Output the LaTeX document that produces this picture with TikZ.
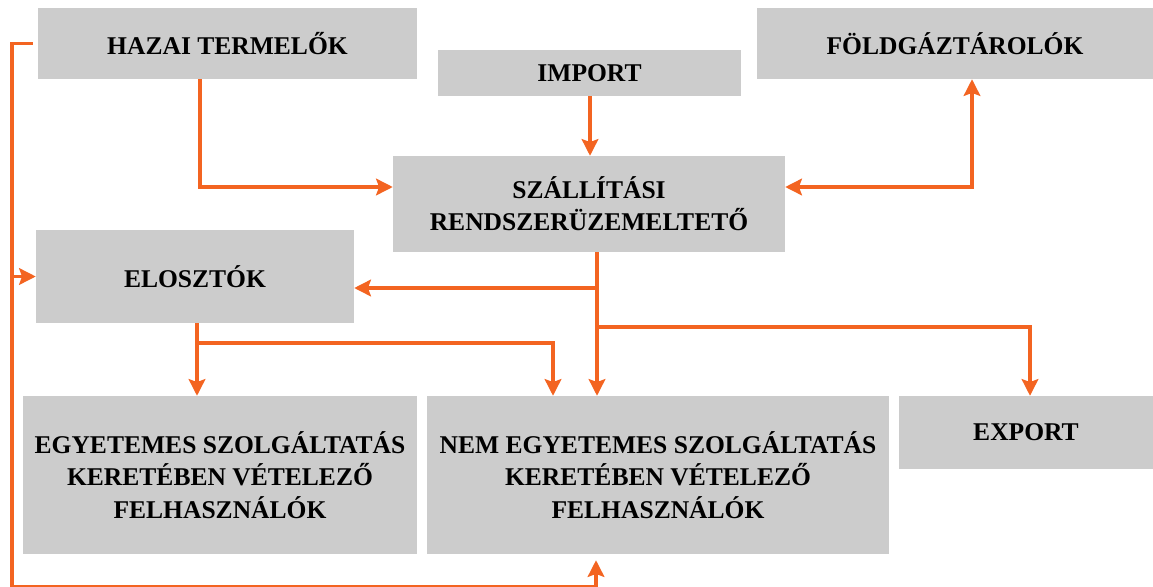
\documentclass[tikz,border=0pt]{standalone}
\usepackage{fontspec}
\setmainfont{Liberation Serif}
\usetikzlibrary{arrows.meta}
\definecolor{boxgray}{RGB}{204,204,204}
\definecolor{arrorange}{RGB}{243,100,33}
\tikzset{
  box/.style={fill=boxgray, inner sep=0pt, align=center,
    font=\fontsize{21.8pt}{27.5pt}\selectfont\bfseries, text=black},
  conn/.style={draw=arrorange, line width=0.096cm, line join=miter},
  arr/.style={conn, -{Stealth[length=0.5cm,width=0.5cm,inset=0.09cm]}},
  darr/.style={conn, {Stealth[length=0.5cm,width=0.5cm,inset=0.09cm]}-{Stealth[length=0.5cm,width=0.5cm,inset=0.09cm]}},
}
\begin{document}
\begin{tikzpicture}[x=0.03cm,y=-0.03cm]
\useasboundingbox (0,0) rectangle (1153,586);
\node[box, minimum width=379*0.03cm, minimum height=71*0.03cm] (hz) at (227.5,43.5) {HAZAI TERMELŐK};
\node[box, minimum width=303*0.03cm, minimum height=46*0.03cm] (imp) at (589.5,73) {IMPORT};
\node[box, minimum width=396*0.03cm, minimum height=71*0.03cm] (fold) at (955,43.5) {FÖLDGÁZTÁROLÓK};
\node[box, minimum width=392*0.03cm, minimum height=96*0.03cm] (szr) at (589,204) {SZÁLLÍTÁSI\\RENDSZERÜZEMELTETŐ};
\node[box, minimum width=318*0.03cm, minimum height=93*0.03cm] (elo) at (195,276.5) {ELOSZTÓK};
\node[box, minimum width=394*0.03cm, minimum height=158*0.03cm] (egy) at (220,475) {EGYETEMES SZOLGÁLTATÁS\\KERETÉBEN VÉTELEZŐ\\FELHASZNÁLÓK};
\node[box, minimum width=462*0.03cm, minimum height=158*0.03cm] (nem) at (658,475) {NEM EGYETEMES SZOLGÁLTATÁS\\KERETÉBEN VÉTELEZŐ\\FELHASZNÁLÓK};
\node[box, minimum width=254*0.03cm, minimum height=73*0.03cm] (exp) at (1026,432.5) {EXPORT};

% bend points
\coordinate (hzL) at (12,43.5);
\coordinate (fbB) at (12,587);
\coordinate (b1) at (597,288);
\coordinate (b2) at (597,327);
\coordinate (b3) at (197,343);

% HAZAI -> SZR
\draw[arr] (hz.south -| 200,0) |- (szr.west |- 0,187);
% IMPORT -> SZR
\draw[arr] (imp.south -| 590,0) -- (szr.north -| 590,0);
% SZR <-> FOLD
\draw[darr] (szr.east |- 0,187) -| (fold.south -| 972,0);
% SZR -> NEM
\draw[arr] (szr.south -| 597,0) -- (nem.north -| 597,0);
% SZR -> ELO
\draw[arr] (b1) -- (elo.east |- b1);
% SZR -> EXPORT
\draw[arr] (b2) -| (exp.north -| 1030,0);
% ELO -> EGY
\draw[arr] (elo.south -| b3) -- (egy.north -| b3);
% ELO -> NEM
\draw[arr] (b3) -| (nem.north -| 553,0);
% feedback loop
\draw[conn] ([xshift=-5*0.03cm]hz.west) -- (hzL) -- (fbB);
\draw[arr] (12,276.5) -- (elo.west);
\draw[arr, shorten >=6*0.03cm] (fbB) -| (nem.south -| 596,0);
\end{tikzpicture}
\end{document}
